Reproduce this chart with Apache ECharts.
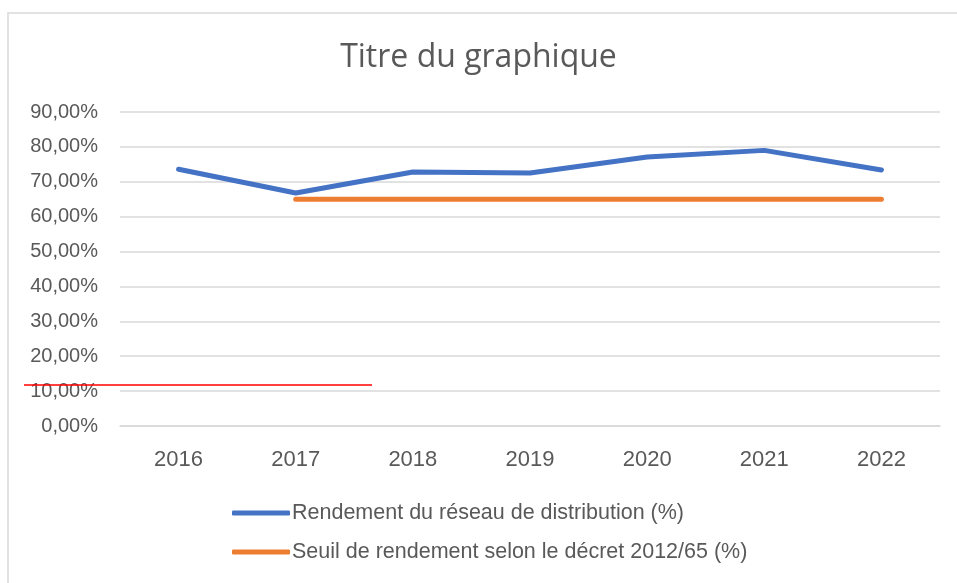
<!DOCTYPE html>
<html lang="fr">
<head>
    <meta charset="UTF-8">
    <title>Titre du graphique</title>
    <script src="https://cdn.jsdelivr.net/npm/echarts@6/dist/echarts.min.js"></script>
    <style>
        html,body{margin:0;padding:0;background:#fff;}
        #chart{width:957px;height:583px;}
    </style>
</head>
<body>
<div id="chart"></div>
<script>
    // données
    let years = ['2016', '2017', '2018', '2019', '2020', '2021', '2022'];
    let rendement = [73.6, 66.8, 72.8, 72.5, 77.1, 79.0, 73.4];
    let seuil = [null, 65, 65, 65, 65, 65, 65];
    let seriesNames = ['Rendement du réseau de distribution (%)', 'Seuil de rendement selon le décret 2012/65 (%)'];

    let font = '"Liberation Sans", sans-serif';
    let grey = '#595959';

    let myChart = echarts.init(document.getElementById('chart'));
    let option = {
        animation: false,
        title: {
            text: 'Titre du graphique',
            left: 'center',
            top: 37,
            textStyle: {color: grey, fontSize: 32, fontWeight: 'normal', fontFamily: '"Open Sans", sans-serif'}
        },
        legend: {
            orient: 'vertical',
            left: 227,
            top: 497,
            itemGap: 17,
            itemWidth: 58,
            itemHeight: 5,
            icon: 'roundRect',
            textStyle: {color: grey, fontSize: 21.5, fontFamily: font, padding: [0, 0, 0, -3]},
            data: seriesNames
        },
        grid: {left: 120, right: 17, top: 112, bottom: 157},
        xAxis: {
            type: 'category',
            data: years,
            boundaryGap: true,
            axisLine: {show: true, lineStyle: {color: '#d9d9d9', width: 1.5}},
            axisTick: {show: false},
            axisLabel: {color: grey, fontSize: 22, fontFamily: font, margin: 23}
        },
        yAxis: {
            type: 'value',
            min: 0,
            max: 90,
            interval: 10,
            axisLine: {show: false},
            axisTick: {show: false},
            axisLabel: {
                color: grey, fontSize: 20, fontFamily: font, margin: 22,
                formatter: function (v) { return v.toFixed(2).replace('.', ',') + '%'; }
            },
            splitLine: {lineStyle: {color: '#d9d9d9', width: 1.5}}
        },
        series: [
            {
                name: seriesNames[0],
                type: 'line',
                data: rendement,
                showSymbol: false,
                color: '#4472C4',
                lineStyle: {width: 5, cap: 'round', join: 'round'}
            },
            {
                name: seriesNames[1],
                type: 'line',
                data: seuil,
                showSymbol: false,
                color: '#ED7D31',
                lineStyle: {width: 5, cap: 'round', join: 'round'}
            }
        ],
        graphic: [
            {
                type: 'rect',
                shape: {x: 8, y: 13, width: 1000, height: 700},
                style: {fill: 'none', stroke: '#d9d9d9', lineWidth: 1.5},
                silent: true
            },
            {
                type: 'line',
                shape: {x1: 24, y1: 385, x2: 372, y2: 385},
                style: {stroke: '#ff0000', lineWidth: 1.5},
                z: 100
            }
        ]
    };
    myChart.setOption(option);
</script>
</body>
</html>
